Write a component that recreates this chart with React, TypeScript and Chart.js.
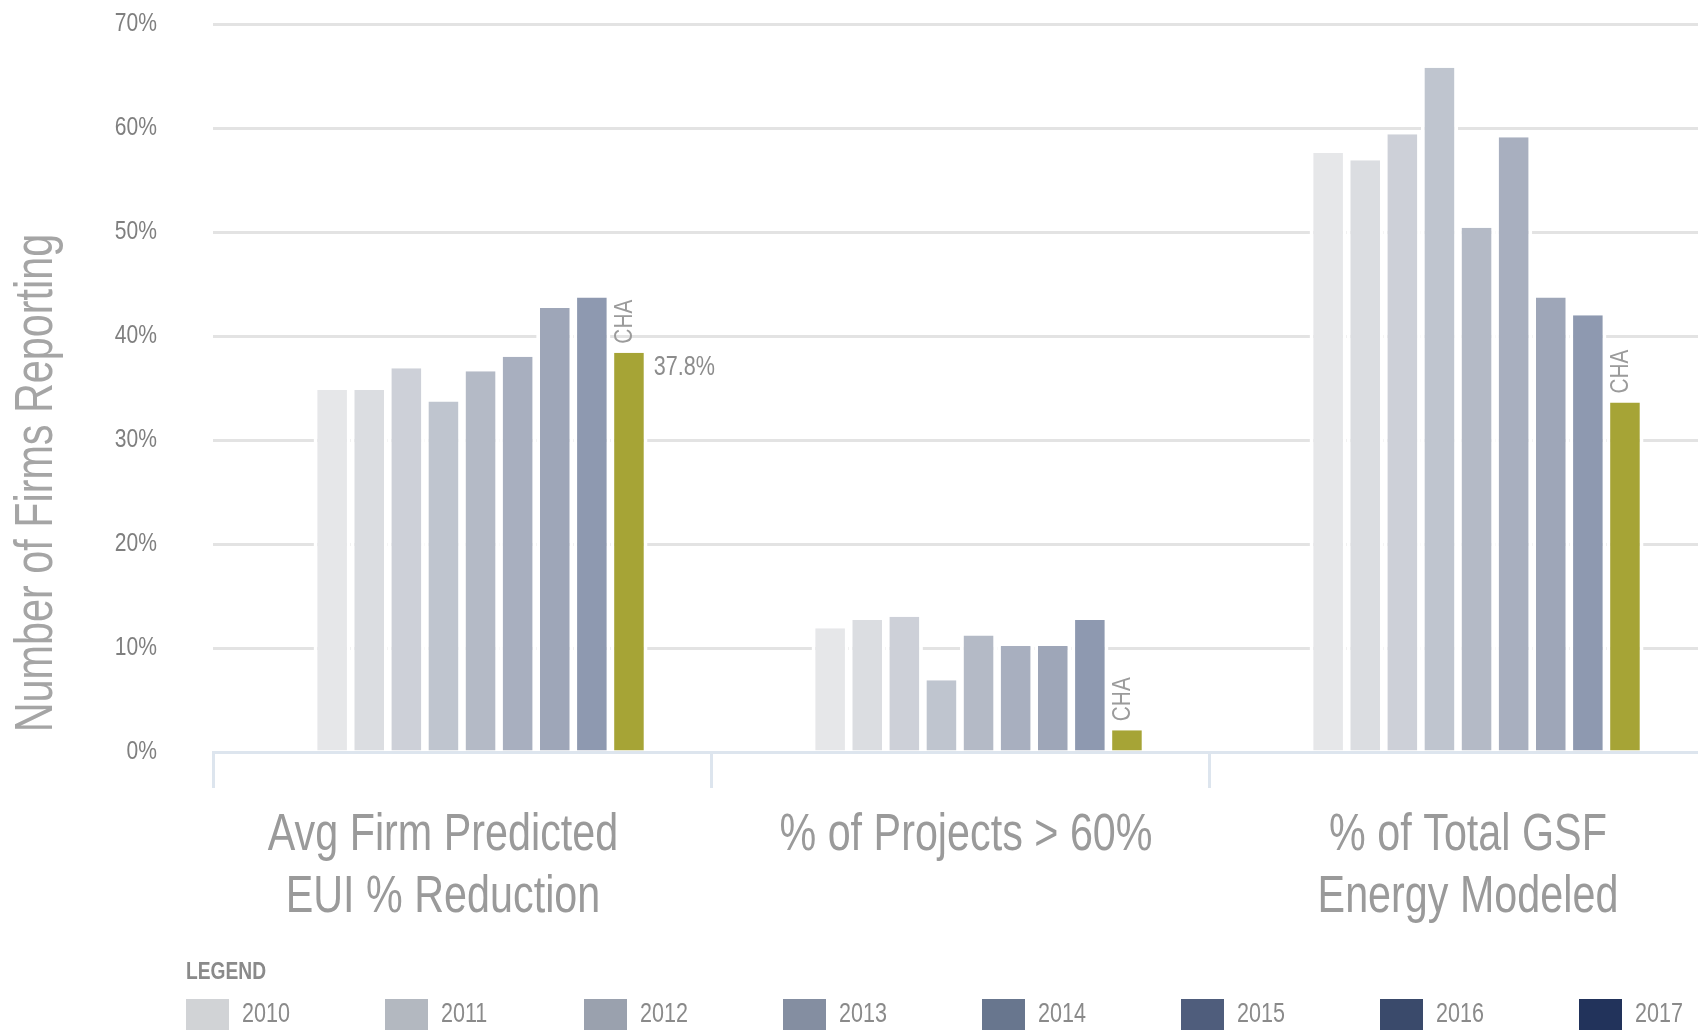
import React, { useEffect, useRef } from 'react';
import { Chart, registerables } from 'chart.js';

Chart.register(...registerables);

// ---- data ----
const categories: string[][] = [
  ['Avg Firm Predicted', 'EUI % Reduction'],
  ['% of Projects > 60%'],
  ['% of Total GSF', 'Energy Modeled'],
];
const years = ['2010', '2011', '2012', '2013', '2014', '2015', '2016', '2017'];
const v2010 = [34.8, 11.9, 57.6];
const v2011 = [34.8, 12.7, 56.9];
const v2012 = [36.9, 13.0, 59.4];
const v2013 = [33.7, 6.9, 65.8];
const v2014 = [36.6, 11.2, 50.4];
const v2015 = [38.0, 10.2, 59.1];
const v2016 = [42.7, 10.2, 43.7];
const v2017 = [43.7, 12.7, 42.0];
const chaValues = [38.4, 2.1, 33.6];
const chaName = 'CHA';
const chaValueLabels = ['37.8%', '', ''];
const yMin = 0;
const yMax = 70;
const yStep = 10;
const yTitle = 'Number of Firms Reporting';
const legendTitle = 'LEGEND';

const yearValues = [v2010, v2011, v2012, v2013, v2014, v2015, v2016, v2017];
const barColors = ['#e6e7e9', '#dbdde1', '#cdd0d8', '#bfc5cf', '#b4bac6', '#a8afbf', '#9ea6b8', '#8e99b0'];
const chaColor = '#a6a436';
const legendColors = ['#d1d3d6', '#b3b8c0', '#9aa1ae', '#848ea1', '#68768e', '#4f5d7c', '#3a4a6b', '#22335b'];

const FAM = "'Liberation Sans', Arial, Helvetica, sans-serif";

function cText(
  ctx: CanvasRenderingContext2D,
  text: string,
  x: number,
  y: number,
  size: number,
  sx: number,
  color: string,
  align: CanvasTextAlign,
  baseline: CanvasTextBaseline,
  rot = 0,
  weight = 'normal'
) {
  ctx.save();
  ctx.translate(x, y);
  if (rot) ctx.rotate(rot);
  ctx.scale(sx, 1);
  ctx.font = `${weight} ${size}px ${FAM}`;
  ctx.fillStyle = color;
  ctx.textAlign = align;
  ctx.textBaseline = baseline;
  ctx.fillText(text, 0, 0);
  ctx.restore();
}

export default function App() {
  const ref = useRef<HTMLCanvasElement>(null);

  useEffect(() => {
    const canvas = ref.current;
    if (!canvas) return;

    const CHART_BOTTOM = 752;
    const H = 1034;
    const BORDER = 3.8;
    const labelOffsets = [-19, 6, 10];

    const overlay = {
      id: 'overlay',
      afterDatasetsDraw(chart: any) {
        const ctx: CanvasRenderingContext2D = chart.ctx;
        const meta = chart.getDatasetMeta(chart.data.datasets.length - 1);
        meta.data.forEach((el: any, i: number) => {
          const { x, y, width } = el.getProps(['x', 'y', 'width'], true);
          cText(ctx, chaName, x - 4.5, y - 9, 26, 0.8, '#9b9b9b', 'left', 'middle', -Math.PI / 2);
          if (chaValueLabels[i]) {
            cText(ctx, chaValueLabels[i], x + width / 2 - BORDER + 10, y + 15, 27, 0.8, '#8c8c8c', 'left', 'middle');
          }
        });
      },
      afterDraw(chart: any) {
        const ctx: CanvasRenderingContext2D = chart.ctx;
        const xs = chart.scales.x;
        const ys = chart.scales.y;
        // y tick labels
        ys.ticks.forEach((t: any) => {
          const py = ys.getPixelForValue(t.value);
          cText(ctx, `${t.value}%`, 157, py, 26, 0.81, '#7f7f7f', 'right', 'middle');
        });
        // category labels
        categories.forEach((lines, i) => {
          const cx = xs.getPixelForValue(i) + labelOffsets[i];
          lines.forEach((line, j) => {
            cText(ctx, line, cx, xs.top + 98 + j * 62, 51, 0.81, '#9a9a9a', 'center', 'alphabetic');
          });
        });
        // y title
        cText(ctx, yTitle, 37, 483, 53, 0.78, '#a5a5a5', 'center', 'middle', -Math.PI / 2);
        // legend
        cText(ctx, legendTitle, 186, 979, 24, 0.8, '#8a8a8a', 'left', 'alphabetic', 0, 'bold');
        years.forEach((yr, i) => {
          const bx = 186 + i * 199;
          ctx.save();
          ctx.fillStyle = legendColors[i];
          ctx.fillRect(bx, 999, 43, 31);
          ctx.restore();
          cText(ctx, yr, bx + 56, 1022, 28, 0.77, '#8a8a8a', 'left', 'alphabetic');
        });
      },
    };

    const datasets: any[] = [
      { label: '', data: categories.map(() => null), backgroundColor: 'rgba(0,0,0,0)' },
      ...years.map((yr, i) => ({ label: yr, data: yearValues[i], backgroundColor: barColors[i] })),
      { label: chaName, data: chaValues, backgroundColor: chaColor },
    ];

    const chart = new Chart(canvas, {
      type: 'bar',
      data: { labels: categories.map((c) => c.join(' ')), datasets },
      options: {
        responsive: false,
        animation: false,
        layout: { padding: { top: 24, right: 1, left: 0, bottom: 0 } },
        plugins: { legend: { display: false }, tooltip: { enabled: false } },
        datasets: {
          bar: {
            categoryPercentage: 0.745,
            barPercentage: 1,
            borderColor: '#ffffff',
            borderWidth: { left: BORDER, right: BORDER, top: 0, bottom: 0 },
            borderSkipped: false,
            inflateAmount: 0,
          },
        },
        scales: {
          x: {
            grid: {
              display: true,
              drawOnChartArea: false,
              drawTicks: true,
              tickLength: 36,
              color: '#dde5ee',
              lineWidth: 3,
            },
            border: { display: true, color: '#dde5ee', width: 3 },
            ticks: { display: false, autoSkip: false, maxRotation: 0 },
            afterFit: (s: any) => {
              s.height = H - CHART_BOTTOM;
            },
          },
          y: {
            min: yMin,
            max: yMax,
            ticks: { display: false, stepSize: yStep },
            grid: {
              color: (c: any) => (c.tick && c.tick.value === 0 ? 'rgba(0,0,0,0)' : '#e3e3e3'),
              lineWidth: 3,
              drawTicks: false,
            },
            border: { display: false },
            afterFit: (s: any) => {
              s.width = 213;
            },
          },
        },
      } as any,
      plugins: [overlay],
    });
    return () => chart.destroy();
  }, []);

  return (
    <div
      style={{
        position: 'fixed',
        left: 0,
        top: 0,
        width: 1698,
        height: 1034,
        overflow: 'hidden',
        background: '#ffffff',
      }}
    >
      <canvas ref={ref} width={1708} height={1034} style={{ display: 'block', width: 1708, height: 1034 }} />
    </div>
  );
}
